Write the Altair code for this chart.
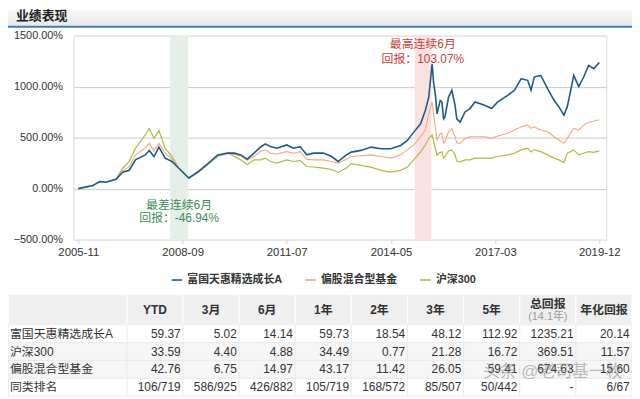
import altair as alt
import pandas as pd

# ---------------- data ----------------
dates = [
    "2005-11-01", "2006-03-25", "2006-06-01", "2006-08-01", "2006-11-10", "2007-01-15",
    "2007-03-22", "2007-05-22", "2007-08-28", "2007-10-06", "2007-11-22", "2008-01-10",
    "2008-03-12", "2008-05-18", "2008-07-25", "2008-11-01", "2009-02-06", "2009-05-15",
    "2009-08-15", "2009-11-22", "2010-01-28", "2010-04-01", "2010-06-04", "2010-08-10",
    "2010-10-12", "2010-12-01", "2011-01-22", "2011-03-25", "2011-07-01", "2011-09-06",
    "2011-11-10", "2012-01-15", "2012-03-22", "2012-06-28", "2012-09-18", "2012-11-22",
    "2013-02-12", "2013-04-01", "2013-07-06", "2013-10-15", "2014-01-22", "2014-04-28",
    "2014-08-04", "2014-10-10", "2014-12-12", "2015-02-18", "2015-04-06", "2015-05-10",
    "2015-06-12", "2015-06-28", "2015-07-14", "2015-07-31", "2015-08-16", "2015-09-01",
    "2015-09-18", "2015-10-04", "2015-10-18", "2015-11-22", "2015-12-25", "2016-01-26",
    "2016-02-12", "2016-03-16", "2016-05-04", "2016-06-22", "2016-08-10", "2016-11-15",
    "2017-01-22", "2017-03-25", "2017-07-01", "2017-09-06", "2017-11-12", "2018-01-15",
    "2018-02-18", "2018-03-22", "2018-05-25", "2018-08-01", "2018-10-04", "2018-11-22",
    "2019-01-10", "2019-02-12", "2019-04-18", "2019-06-06", "2019-07-25", "2019-09-12",
    "2019-11-01", "2019-12-27",
]
fund = [
    0, 30, 70, 62, 92, 160, 180, 282, 330, 373, 315, 406,
    299, 266, 200, 104, 169, 250, 331, 348, 348, 331, 289, 348,
    406, 438, 412, 396, 428, 396, 412, 331, 348, 348, 315, 266,
    331, 358, 375, 407, 391, 391, 423, 472, 554, 636, 766, 896,
    1222, 1030, 931, 733, 801, 863, 850, 685, 704, 896, 964, 815,
    684, 652, 752, 785, 850, 817, 785, 850, 915, 964, 1078, 1062,
    964, 1094, 1110, 980, 866, 801, 720, 801, 1110, 1000, 1094, 1208,
    1175, 1235,
]
category = [
    0, 30, 68, 60, 92, 175, 215, 331, 400, 445, 370, 445,
    347, 290, 201, 104, 165, 245, 330, 345, 335, 320, 280, 315,
    363, 380, 347, 340, 363, 347, 363, 289, 282, 282, 266, 250,
    289, 315, 322, 331, 315, 299, 331, 380, 428, 509, 574, 736,
    850, 720, 606, 480, 509, 540, 542, 450, 460, 560, 590, 509,
    450, 440, 493, 509, 509, 509, 493, 516, 542, 574, 606, 622,
    590, 606, 574, 558, 509, 477, 444, 493, 590, 574, 622, 650,
    660, 675,
]
hs300 = [
    0, 28, 72, 62, 95, 200, 270, 396, 526, 590, 494, 568,
    396, 315, 201, 100, 160, 240, 315, 350, 315, 282, 234, 282,
    282, 299, 266, 250, 282, 266, 275, 217, 212, 201, 188, 159,
    201, 245, 228, 211, 179, 162, 179, 211, 282, 360, 428, 493,
    526, 460, 396, 330, 347, 355, 363, 300, 315, 370, 380, 331,
    270, 262, 282, 282, 299, 299, 299, 315, 331, 347, 380, 396,
    360, 380, 363, 331, 299, 282, 256, 347, 380, 331, 347, 363,
    355, 370,
]

series_names = ["富国天惠精选成长A", "偏股混合型基金", "沪深300"]
series_colors = ["#1d5b8f", "#f6a67d", "#a4c03e"]

best_band = ["2014-12-22", "2015-06-05"]
worst_band = ["2008-05-01", "2008-10-25"]
best_text = ["最高连续6月", "回报：103.07%"]
worst_text = ["最差连续6月", "回报：-46.94%"]
best_text_pos = ["2015-03-12", 1418, 1271]
worst_text_pos = ["2008-07-28", -156, -284]

x_ticks = ["2005-11-01", "2008-09-01", "2011-07-01", "2014-05-01", "2017-03-01", "2019-12-27"]
x_domain = ["2005-09-13", "2020-03-05"]
y_ticks = [-500, 0, 500, 1000, 1500]

table_cols = ["YTD", "3月", "6月", "1年", "2年", "3年", "5年", "总回报", "年化回报"]
table_rows = ["富国天惠精选成长A", "沪深300", "偏股混合型基金", "同类排名"]
row_fund = ["59.37", "5.02", "14.14", "59.73", "18.54", "48.12", "112.92", "1235.21", "20.14"]
row_hs300 = ["33.59", "4.40", "4.88", "34.49", "0.77", "21.28", "16.72", "369.51", "11.57"]
row_category = ["42.76", "6.75", "14.97", "43.17", "11.42", "26.05", "59.41", "674.63", "15.60"]
row_rank = ["106/719", "586/925", "426/882", "105/719", "168/572", "85/507", "50/442", "-", "6/67"]
total_sub = "(14.1年)"
row_bg = ["#ffffff", "#f6f6f6", "#f6f6f6", "#ffffff"]

page_title = "业绩表现"
watermark = "头条 @老司基一枚"

FONT = "Liberation Sans, Noto Sans CJK SC"


def dt(s):
    y, m, d = (int(p) for p in s.split("-"))
    return alt.DateTime(year=y, month=m, date=d, utc=True)


# ---------------- main chart ----------------
n = len(dates)
lines_df = pd.DataFrame({
    "date": dates * 3,
    "value": fund + category + hs300,
    "series": [series_names[0]] * n + [series_names[1]] * n + [series_names[2]] * n,
})

x_scale = alt.Scale(type="utc", domain=[dt(x_domain[0]), dt(x_domain[1])])
x_axis = alt.Axis(
    values=[dt(s) for s in x_ticks], format="%Y-%m", title=None, grid=False, domain=False,
    ticks=True, tickSize=4, tickColor="#cfcfcf", labelFontSize=11.5, labelColor="#333333",
    labelPadding=3, labelFont=FONT, labelOverlap=False,
)
y_scale = alt.Scale(domain=[-500, 1500], nice=False, zero=False)
y_axis = alt.Axis(
    values=y_ticks, labelExpr="format(datum.value, '.2f') + '%'", title=None, domain=False,
    ticks=False, labelPadding=11, labelFontSize=11, labelColor="#333333", labelFont=FONT,
    grid=True,
    gridColor={"condition": {"test": "datum.value == -500 || datum.value == 1500", "value": "#e4e4e4"},
               "value": "#c9c9c9"},
)

color_enc = alt.Color(
    "series:N",
    scale=alt.Scale(domain=series_names, range=series_colors),
    legend=alt.Legend(
        orient="none", legendX=98, legendY=240, direction="horizontal", title=None,
        symbolType="stroke", symbolSize=110, symbolStrokeWidth=1.6, labelFontSize=11,
        labelFontWeight="bold", labelColor="#333333", labelFont=FONT, labelOffset=4,
        columnPadding=20, labelLimit=200,
    ),
)

bands_df = pd.DataFrame({
    "start": [worst_band[0], best_band[0]],
    "end": [worst_band[1], best_band[1]],
    "fill": ["#e5efe7", "#fbe2e2"],
})
bands = alt.Chart(bands_df).mark_rect().encode(
    x=alt.X("start:T", scale=x_scale, axis=x_axis),
    x2="end:T",
    y=alt.YDatum(1500, scale=y_scale, axis=y_axis),
    y2=alt.Y2Datum(-500),
    fill=alt.Fill("fill:N", scale=None),
)

line_layers = []
for name, w in [(series_names[2], 1.2), (series_names[1], 1.1), (series_names[0], 1.6)]:
    line_layers.append(
        alt.Chart(lines_df[lines_df["series"] == name]).mark_line(strokeWidth=w).encode(
            x=alt.X("date:T", scale=x_scale, axis=x_axis),
            y=alt.Y("value:Q", scale=y_scale, axis=y_axis),
            color=color_enc,
        )
    )

best_df = pd.DataFrame({"date": [best_text_pos[0]] * 2, "val": best_text_pos[1:], "text": best_text})
worst_df = pd.DataFrame({"date": [worst_text_pos[0]] * 2, "val": worst_text_pos[1:], "text": worst_text})
best_lbl = alt.Chart(best_df).mark_text(fontSize=12, color="#cc3d3d", font=FONT).encode(
    x=alt.X("date:T", scale=x_scale), y=alt.Y("val:Q", scale=y_scale), text="text:N")
worst_lbl = alt.Chart(worst_df).mark_text(fontSize=12, color="#3f8a5a", font=FONT).encode(
    x=alt.X("date:T", scale=x_scale), y=alt.Y("val:Q", scale=y_scale), text="text:N")

one = alt.Data(values=[{}])
title_bg = alt.Chart(one).mark_rect(
    fill=alt.Gradient(gradient="linear", x1=0, x2=0, y1=0, y2=1,
                      stops=[alt.GradientStop(color="#f9f9f9", offset=0),
                             alt.GradientStop(color="#e8e8e8", offset=1)])
).encode(x=alt.value(-66), x2=alt.value(566), y=alt.value(-26), y2=alt.value(-10))
title_line = alt.Chart(one).mark_rule(color="#3f7cb5", strokeWidth=2).encode(
    x=alt.value(-66), x2=alt.value(566), y=alt.value(-9))
title_txt = alt.Chart(one).mark_text(
    text=page_title, fontSize=13, fontWeight="bold", color="#222222", align="left",
    baseline="middle", font=FONT).encode(x=alt.value(-58), y=alt.value(-20))

main = alt.layer(bands, *line_layers, best_lbl, worst_lbl, title_bg, title_line, title_txt)

# ---------------- table ----------------
col_scale = alt.Scale(domain=table_cols, range=[54, 564], paddingInner=0, paddingOuter=0)
row_scale = alt.Scale(domain=table_rows, range=[292, 364], paddingInner=0, paddingOuter=0)

cells = []
for r, vals in zip(table_rows, [row_fund, row_hs300, row_category, row_rank]):
    for c, v in zip(table_cols, vals):
        cells.append({"row": r, "col": c, "text": v, "bg": row_bg[table_rows.index(r)]})
cells_df = pd.DataFrame(cells)
rows_df = pd.DataFrame({"row": table_rows, "bg": row_bg})
head_df = pd.DataFrame({"col": table_cols})
head_simple = head_df[head_df["col"] != "总回报"]

X_COL = alt.X("col:N", scale=col_scale, axis=None, sort=table_cols)
Y_ROW = alt.Y("row:N", scale=row_scale, axis=None, sort=table_rows)

head_cells = alt.Chart(head_df).mark_rect(fill="#efefef", stroke="#ffffff", strokeWidth=1.2).encode(
    x=X_COL, y=alt.value(261), y2=alt.value(292))
head_label_cell = alt.Chart(one).mark_rect(fill="#efefef", stroke="#ffffff", strokeWidth=1.2).encode(
    x=alt.value(-65.5), x2=alt.value(54), y=alt.value(261), y2=alt.value(292))
body_cells = alt.Chart(cells_df).mark_rect(stroke="#e8e8e8", strokeWidth=0.8).encode(
    x=X_COL, y=Y_ROW, fill=alt.Fill("bg:N", scale=None))
body_label_cells = alt.Chart(rows_df).mark_rect(stroke="#e8e8e8", strokeWidth=0.8).encode(
    x=alt.value(-65.5), x2=alt.value(54), y=Y_ROW, fill=alt.Fill("bg:N", scale=None))
head_txt = alt.Chart(head_simple).mark_text(
    fontSize=12, fontWeight="bold", color="#333333", font=FONT).encode(
    x=X_COL, y=alt.value(277), text="col:N")
total_txt = alt.Chart(pd.DataFrame({"col": ["总回报"]})).mark_text(
    fontSize=12, fontWeight="bold", color="#333333", font=FONT).encode(
    x=X_COL, y=alt.value(271), text="col:N")
total_sub_txt = alt.Chart(pd.DataFrame({"col": ["总回报"], "t": [total_sub]})).mark_text(
    fontSize=11, color="#999999", font=FONT).encode(
    x=X_COL, y=alt.value(284), text="t:N")
val_txt = alt.Chart(cells_df).mark_text(
    fontSize=12, color="#333333", align="right", dx=26, font=FONT).encode(
    x=X_COL, y=Y_ROW, text="text:N")
row_txt = alt.Chart(rows_df).mark_text(
    fontSize=12, color="#333333", align="left", font=FONT).encode(
    x=alt.value(-64), y=Y_ROW, text="row:N")
wm = alt.Chart(one).mark_text(
    text=watermark, fontSize=17, color="#8a8a8a", opacity=0.55, font=FONT).encode(
    x=alt.value(484), y=alt.value(340))

table = alt.layer(head_cells, head_label_cell, body_cells, body_label_cells,
                  head_txt, total_txt, total_sub_txt, val_txt, row_txt, wm)

chart = alt.layer(main, table).resolve_scale(
    x="independent", y="independent"
).properties(
    width=538, height=206,
    padding={"left": 66, "top": 26, "right": 26, "bottom": 158},
    autosize=alt.AutoSizeParams(type="none"),
    background="#ffffff",
).configure_view(stroke="#e2e2e2").configure(font=FONT)

chart.save("out.html", embed_options={"renderer": "svg", "actions": False})
